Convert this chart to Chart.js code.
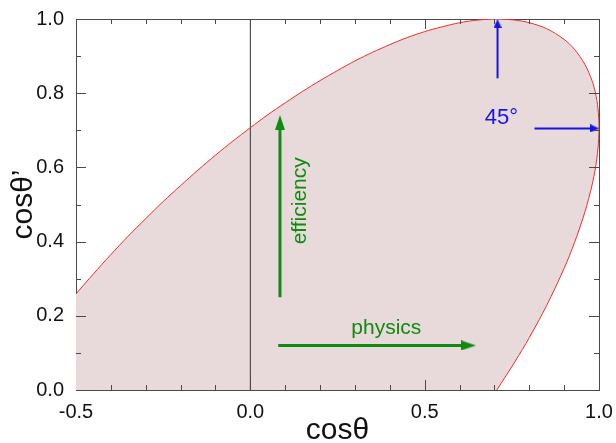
<!DOCTYPE html>
<html>
<head>
<meta charset="utf-8">
<script src="https://cdn.jsdelivr.net/npm/chart.js@4.4.1/dist/chart.umd.min.js"></script>
<style>
  html, body { margin: 0; padding: 0; background: #fff; }
  #wrap { width: 616px; height: 443px; }
</style>
</head>
<body>
<div id="wrap"><canvas id="chart"></canvas></div>
<script>
const X_TICKS = [-0.5, 0.0, 0.5, 1.0];
const Y_TICKS = [0.0, 0.2, 0.4, 0.6, 0.8, 1.0];

// edge of the allowed region: upper branch, then the lower branch back down
const CURVE_X = [-0.5, -0.45, -0.4, -0.35, -0.3, -0.25, -0.2, -0.15, -0.1, -0.05, 0.0, 0.05, 0.1, 0.15, 0.2, 0.25, 0.3, 0.35, 0.4, 0.45, 0.5, 0.55, 0.6, 0.65, 0.707, 0.76, 0.8, 0.85, 0.9, 0.93, 0.96, 0.98, 0.99, 0.997, 1.0,
  0.997, 0.99, 0.98, 0.96, 0.93, 0.9, 0.85, 0.8, 0.76, 0.707];
const CURVE_Y = [0.259, 0.313, 0.365, 0.415, 0.462, 0.508, 0.551, 0.593, 0.633, 0.671, 0.707, 0.742, 0.774, 0.805, 0.834, 0.861, 0.887, 0.910, 0.931, 0.950, 0.966, 0.979, 0.990, 0.997, 1.0, 0.997, 0.990, 0.974, 0.945, 0.918, 0.877, 0.834, 0.800, 0.760, 0.707,
  0.650, 0.600, 0.552, 0.481, 0.398, 0.328, 0.228, 0.141, 0.078, 0.0];

// arrows
const EFF_X = [0.085, 0.085];
const EFF_Y = [0.25, 0.71];
const PHYS_X = [0.08, 0.62];
const PHYS_Y = [0.12, 0.12];
const TOP_X = [0.709, 0.709];
const TOP_Y = [0.84, 0.98];
const SIDE_X = [0.815, 0.98];
const SIDE_Y = [0.705, 0.705];
const ZERO_X = [0, 0];
const ZERO_Y = [0, 1];
const HEAD_X = [0.085, 0.626, 0.709, 0.988];
const HEAD_Y = [0.721, 0.12, 0.988, 0.705];
const HEAD_ROT = [0, 90, 0, 90];

const GREEN = '#118a11';
const BLUE = '#1515e8';
const FONT = "'Liberation Sans', Arial, sans-serif";

const pts = (xs, ys) => xs.map((x, i) => ({ x, y: ys[i] }));

function headCanvas(w, h, color) {
  const c = document.createElement('canvas');
  c.width = w;
  c.height = h;
  const g = c.getContext('2d');
  g.fillStyle = color;
  g.beginPath();
  g.moveTo(w / 2, 0);
  g.lineTo(w, h);
  g.lineTo(0, h);
  g.closePath();
  g.fill();
  return c;
}
const greenHead = headCanvas(10, 15, GREEN);
const blueHead = headCanvas(8, 9, BLUE);

const NOTES = [
  { text: 'physics', x: 0.39, y: 0.167, color: GREEN, size: 21, rot: 0 },
  { text: 'efficiency', x: 0.142, y: 0.51, color: GREEN, size: 21, rot: -90 },
  { text: '45°', x: 0.72, y: 0.733, color: BLUE, size: 22, rot: 0 },
];

const decor = {
  id: 'decor',
  afterDatasetsDraw(chart) {
    const { ctx, chartArea: a, scales: { x, y } } = chart;
    ctx.save();
    ctx.strokeStyle = '#4a4a4a';
    ctx.lineWidth = 1;
    ctx.beginPath();
    for (let i = -4; i < 10; i++) {
      const len = i % 5 === 0 ? 10 : 5;
      const px = Math.round(x.getPixelForValue(i / 10)) + 0.5;
      ctx.moveTo(px, a.bottom); ctx.lineTo(px, a.bottom - len);
      ctx.moveTo(px, a.top); ctx.lineTo(px, a.top + len);
    }
    for (let i = 1; i < 10; i++) {
      const len = i % 2 === 0 ? 10 : 5;
      const py = Math.round(y.getPixelForValue(i / 10)) + 0.5;
      ctx.moveTo(a.left, py); ctx.lineTo(a.left + len, py);
      ctx.moveTo(a.right, py); ctx.lineTo(a.right - len, py);
    }
    ctx.stroke();

    NOTES.forEach((n) => {
      ctx.save();
      ctx.translate(x.getPixelForValue(n.x), y.getPixelForValue(n.y));
      ctx.rotate(n.rot * Math.PI / 180);
      ctx.fillStyle = n.color;
      ctx.font = n.size + 'px ' + FONT;
      ctx.textAlign = 'center';
      ctx.textBaseline = 'middle';
      ctx.fillText(n.text, 0, 0);
      ctx.restore();
    });
    ctx.restore();
  },
};

const line = (data, color, width) => ({
  data, showLine: true, borderColor: color, borderWidth: width,
  pointRadius: 0, fill: false, tension: 0, clip: false,
});

const curve = pts(CURVE_X, CURVE_Y);

new Chart(document.getElementById('chart'), {
  type: 'scatter',
  data: {
    datasets: [
      {
        data: pts(HEAD_X, HEAD_Y),
        pointStyle: [greenHead, greenHead, blueHead, blueHead],
        rotation: HEAD_ROT,
        pointRadius: 5,
        clip: false,
      },
      line(pts(EFF_X, EFF_Y), GREEN, 3),
      line(pts(PHYS_X, PHYS_Y), GREEN, 3),
      line(pts(TOP_X, TOP_Y), BLUE, 2),
      line(pts(SIDE_X, SIDE_Y), BLUE, 2),
      { ...line(curve, '#ee2a2a', 1), clip: 0, tension: 0.3 },
      line(pts(ZERO_X, ZERO_Y), '#333333', 1),
      {
        data: curve.concat([{ x: -0.5, y: 0 }]),
        showLine: true,
        borderWidth: 0,
        pointRadius: 0,
        backgroundColor: 'rgb(232,218,218)',
        fill: 'shape',
        tension: 0,
      },
    ],
  },
  options: {
    responsive: true,
    maintainAspectRatio: false,
    animation: false,
    layout: { padding: 0 },
    plugins: { legend: { display: false }, tooltip: { enabled: false } },
    scales: {
      x: {
        type: 'linear', position: 'bottom', min: -0.5, max: 1.0,
        afterBuildTicks: (s) => { s.ticks = X_TICKS.map((v) => ({ value: v })); },
        afterFit: (s) => { s.height = 53; },
        grid: { display: false },
        border: { color: '#4a4a4a', width: 1 },
        ticks: { color: '#111', padding: 2, maxRotation: 0, font: { family: FONT, size: 20 }, callback: (v) => v.toFixed(1) },
        title: { display: true, text: 'cosθ', color: '#111', padding: 0, font: { family: FONT, size: 30, lineHeight: 0.8 } },
      },
      y: {
        type: 'linear', position: 'left', min: 0, max: 1.0,
        afterBuildTicks: (s) => { s.ticks = Y_TICKS.map((v) => ({ value: v })); },
        afterFit: (s) => { s.width = 76; },
        grid: { display: false },
        border: { color: '#4a4a4a', width: 1 },
        ticks: { color: '#111', padding: 4, font: { family: FONT, size: 20 }, callback: (v) => v.toFixed(1) },
        title: { display: true, text: 'cosθ’', color: '#111', padding: { top: 9, bottom: 0 }, font: { family: FONT, size: 30, lineHeight: 1 } },
      },
      x2: {
        type: 'linear', position: 'top', min: -0.5, max: 1.0,
        afterFit: (s) => { s.height = 19; },
        grid: { display: false },
        border: { color: '#4a4a4a', width: 1 },
        ticks: { display: false },
      },
      y2: {
        type: 'linear', position: 'right', min: 0, max: 1.0,
        afterFit: (s) => { s.width = 17; },
        grid: { display: false },
        border: { color: '#4a4a4a', width: 1 },
        ticks: { display: false },
      },
    },
  },
  plugins: [decor],
});
</script>
</body>
</html>
